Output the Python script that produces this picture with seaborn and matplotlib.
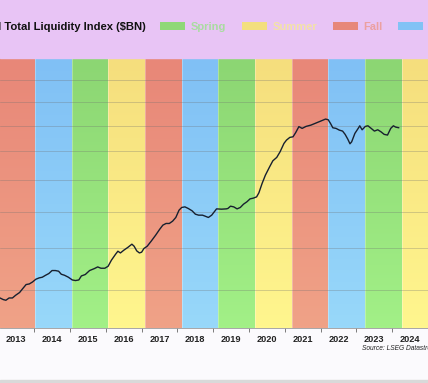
# Global Total Liquidity Index with season bands
import numpy as np
import pandas as pd
import matplotlib
matplotlib.use("Agg")
import matplotlib.pyplot as plt
import seaborn as sns
from matplotlib.patches import Patch, Rectangle

# data (decimal year, $BN)
t = [2013.045, 2013.135, 2013.209, 2013.299, 2013.392, 2013.482, 2013.591, 2013.681, 2013.774, 2013.864,
     2013.954, 2014.046, 2014.136, 2014.226, 2014.319, 2014.409, 2014.499, 2014.592, 2014.682, 2014.756,
     2014.846, 2014.955, 2015.064, 2015.154, 2015.247, 2015.318, 2015.427, 2015.547, 2015.684, 2015.774,
     2015.864, 2015.973, 2016.065, 2016.156, 2016.273, 2016.338, 2016.409, 2016.502, 2016.611, 2016.729,
     2016.791, 2016.865, 2016.939, 2017.001, 2017.064, 2017.157, 2017.274, 2017.392, 2017.501, 2017.593,
     2017.683, 2017.774, 2017.866, 2017.956, 2018.046, 2018.120, 2018.210, 2018.303, 2018.412, 2018.502,
     2018.592, 2018.701, 2018.775, 2018.865, 2018.958, 2019.029, 2019.094, 2019.231, 2019.367, 2019.411,
     2019.484, 2019.574, 2019.667, 2019.757, 2019.847, 2019.940, 2020.030, 2020.120, 2020.213, 2020.276,
     2020.366, 2020.458, 2020.576, 2020.666, 2020.775, 2020.868, 2020.977, 2021.048, 2021.140, 2021.230,
     2021.304, 2021.394, 2021.484, 2021.593, 2021.730, 2021.866, 2022.003, 2022.139, 2022.213, 2022.276,
     2022.341, 2022.431, 2022.521, 2022.614, 2022.685, 2022.759, 2022.821, 2022.868, 2022.958, 2023.050,
     2023.094, 2023.160, 2023.250, 2023.323, 2023.413, 2023.503, 2023.596, 2023.686, 2023.776, 2023.869,
     2023.959, 2024.033, 2024.095, 2024.186]
liquidity_bn = [58160, 57820, 57670, 58160, 58160, 58750, 59340, 60220, 61120, 61260,
                61710, 62330, 62640, 62800, 63260, 63660, 64370, 64370, 64210, 63500,
                63260, 62800, 62170, 62030, 62170, 63100, 63430, 64370, 64850, 65240,
                64920, 64920, 65400, 66870, 68370, 69140, 68700, 69390, 70090, 70960,
                70430, 69220, 68700, 68890, 69830, 70430, 71830, 73360, 74920, 76130,
                76610, 76610, 77260, 78330, 80470, 81280, 81460, 80980, 80270, 79290,
                79000, 79000, 78710, 78330, 79000, 79970, 80860, 80770, 80860, 80980,
                81670, 81460, 80860, 81280, 82280, 82990, 83910, 84130, 84530, 85800,
                88830, 91600, 94460, 96590, 97810, 99860, 103010, 104280, 105320, 105560,
                107210, 109610, 108890, 109690, 110220, 111040, 111870, 112710, 112420, 110920,
                109140, 108890, 108210, 107810, 106510, 104660, 102860, 103620, 106900, 108890,
                109940, 108330, 109690, 109940, 108890, 107810, 108330, 107530, 106510, 106230,
                108890, 109940, 109420, 109140]
years = list(range(2013, 2025))
seasons = ["Fall", "Winter", "Spring", "Summer"]
grid_values = [60000, 70000, 80000, 90000, 100000, 110000, 120000, 130000]

df = pd.DataFrame({"t": t, "value": liquidity_bn})

# top and bottom colour of each season band
band_top = {"Fall": (232, 135, 120), "Winter": (128, 192, 245),
            "Spring": (140, 214, 115), "Summer": (245, 222, 125)}
band_bot = {"Fall": (240, 162, 135), "Winter": (152, 216, 250),
            "Spring": (162, 240, 135), "Summer": (255, 246, 142)}
legend_patch = {"Spring": "#8fd877", "Summer": "#f3df7e", "Fall": "#e7877a", "Winter": "#82c2f5"}
legend_text = {"Spring": "#a9dca0", "Summer": "#f3e2a6", "Fall": "#eca0a0", "Winter": "#a8d4f5"}

sns.set_theme(style="white")
plt.rcParams["font.family"] = ["Liberation Sans", "DejaVu Sans"]

W, H = 428, 383
fig = plt.figure(figsize=(W / 100, H / 100), dpi=100, facecolor="#fbfafd")

# purple header strip and bottom border
fig.patches.append(Rectangle((0, 1 - 58.3 / H), 1, 58.3 / H, transform=fig.transFigure,
                             color="#e8c4f5", zorder=0))
fig.patches.append(Rectangle((0, 0), 1, 3 / H, transform=fig.transFigure,
                             color="#d9d9d9", zorder=0))

rect = [0, (H - 328.3) / H, 1, (328.3 - 58.3) / H]
x0 = 2014 + (0 - 35) / 36.65
x1 = 2014 + (W - 35) / 36.65

# background bands with a vertical gradient
bg = fig.add_axes(rect, zorder=0)
bg.axis("off")
ramp = np.linspace(0, 1, 64)[:, None]
for y in years:
    s = seasons[(y - 2013) % 4]
    top = np.array(band_top[s]) / 255
    bot = np.array(band_bot[s]) / 255
    img = (top * (1 - ramp) + bot * ramp)[:, None, :]
    bg.imshow(img, extent=[y, y + 1, 0, 1], aspect="auto", origin="upper",
              interpolation="bilinear")
    bg.axvline(y, color="white", lw=0.6, alpha=0.35)
bg.set_xlim(x0, x1)
bg.set_ylim(0, 1)

ax = fig.add_axes(rect, zorder=1)
ax.patch.set_visible(False)
sns.lineplot(data=df, x="t", y="value", ax=ax, color="#17202f", lw=1.0)
ax.set_yscale("log")
ax.set_xlim(x0, x1)
ax.set_ylim(51990, 141110)
ax.set_yticks(grid_values)
ax.yaxis.set_minor_locator(matplotlib.ticker.NullLocator())
ax.tick_params(axis="y", left=False, labelleft=False)
ax.grid(axis="y", color="#6e6e6e", alpha=0.3, lw=0.7)
ax.set_xlabel("")
ax.set_ylabel("")

ax.set_xticks([y + 1 for y in years[:-1]] + [2025])
ax.set_xticklabels([])
ax.set_xticks([y + 0.5 for y in years], minor=True)
ax.set_xticklabels([str(y) for y in years], minor=True, fontsize=6.6, fontweight="bold", color="#222222")
ax.tick_params(axis="x", which="major", length=3, width=0.6, color="#666666", bottom=True)
ax.tick_params(axis="x", which="minor", length=0, pad=4.5)
for side in ["left", "right", "top"]:
    ax.spines[side].set_visible(False)
ax.spines["bottom"].set_color("#999999")
ax.spines["bottom"].set_linewidth(0.6)

# title (cropped on the left in the reference)
fig.text(146 / W, 1 - 26.7 / H, "Global Total Liquidity Index ($BN)", ha="right", va="center",
         fontsize=8.1, fontweight="bold", color="#111111")

order = ["Spring", "Summer", "Fall", "Winter"]
handles = [Patch(facecolor=legend_patch[s], edgecolor="none") for s in order]
fig.legend(handles, order, loc="center left", bbox_to_anchor=(160 / W, 1 - 26.7 / H),
           ncol=4, frameon=False, prop={"size": 8, "weight": "bold"},
           labelcolor=[legend_text[s] for s in order],
           handlelength=2.25, handleheight=0.75, handletextpad=0.55, columnspacing=1.36,
           borderpad=0, borderaxespad=0)

fig.text(361.7 / W, 1 - 349 / H, "Source: LSEG Datastream", ha="left", va="center",
         fontsize=4.8, style="italic", color="#222222")

fig.savefig("out.png", dpi=100, facecolor=fig.get_facecolor())
